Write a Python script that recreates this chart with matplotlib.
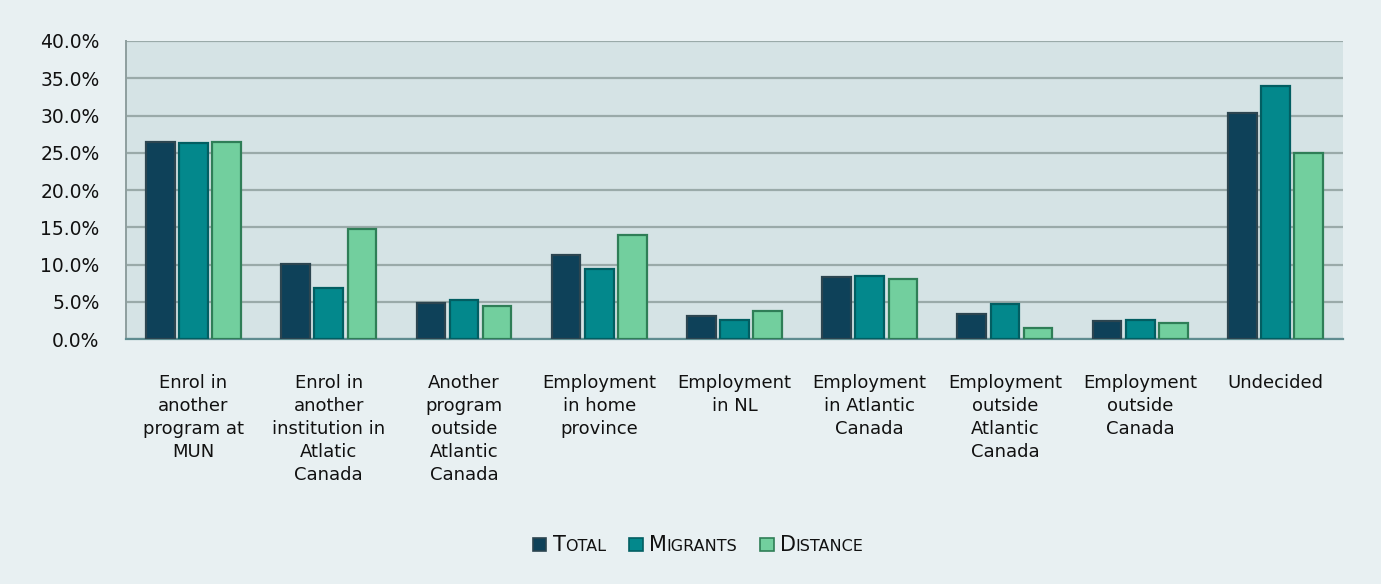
import matplotlib
matplotlib.use("Agg")
import matplotlib.pyplot as plt
import numpy as np
from matplotlib.offsetbox import HPacker, TextArea, DrawingArea, AnchoredOffsetbox
from matplotlib.patches import Rectangle
from matplotlib.ticker import FuncFormatter, MultipleLocator

categories = [
    "Enrol in\nanother\nprogram at\nMUN",
    "Enrol in\nanother\ninstitution in\nAtlatic\nCanada",
    "Another\nprogram\noutside\nAtlantic\nCanada",
    "Employment\nin home\nprovince",
    "Employment\nin NL",
    "Employment\nin Atlantic\nCanada",
    "Employment\noutside\nAtlantic\nCanada",
    "Employment\noutside\nCanada",
    "Undecided",
]
total = [26.4, 10.1, 4.9, 11.3, 3.1, 8.3, 3.4, 2.4, 30.4]
migrants = [26.3, 6.8, 5.2, 9.4, 2.6, 8.4, 4.7, 2.6, 34.0]
distance = [26.5, 14.7, 4.4, 14.0, 3.7, 8.1, 1.5, 2.2, 25.0]

series = [("T", "OTAL", total), ("M", "IGRANTS", migrants), ("D", "ISTANCE", distance)]
face_colors = ["#0E4159", "#03888C", "#72CF9E"]
edge_colors = ["#2C4550", "#025E62", "#2F7E57"]

plt.rcParams["font.family"] = ["DejaVu Sans"]

fig = plt.figure(figsize=(13.81, 5.84), dpi=100)
fig.patch.set_facecolor("#E8F0F2")
ax = fig.add_axes([0.0912, 0.4195, 0.8813, 0.5103])
ax.set_facecolor("#D5E3E5")

x = np.arange(len(categories))
width = 0.212
step = 0.245
for i, (_, _, vals) in enumerate(series):
    ax.bar(x + (i - 1) * step, vals, width=width, color=face_colors[i],
           edgecolor=edge_colors[i], linewidth=1.6, zorder=3)

ax.set_xlim(-0.5, len(categories) - 0.5)
ax.set_ylim(0, 40)
ax.yaxis.set_major_locator(MultipleLocator(5))
ax.yaxis.set_major_formatter(FuncFormatter(lambda v, p: f"{v:.1f}%"))
ax.grid(axis="y", color="#9AAAA9", linewidth=1.6, zorder=1)
ax.set_axisbelow(True)

ax.set_xticks(x)
ax.set_xticklabels(categories, fontsize=13, color="#111111", linespacing=1.37)
ax.tick_params(axis="x", length=0, pad=25)
ax.tick_params(axis="y", length=0, pad=19, labelsize=13.5, labelcolor="#111111")

for side in ("top", "right"):
    ax.spines[side].set_visible(False)
ax.spines["left"].set_color("#8E9E9E")
ax.spines["left"].set_linewidth(1.4)
ax.spines["bottom"].set_color("#5F8C90")
ax.spines["bottom"].set_linewidth(1.6)

# Legend with small-caps style labels
items = []
for i, (first, rest, _) in enumerate(series):
    da = DrawingArea(10.5, 10.5, 0, 0)
    da.add_artist(Rectangle((0.5, 0.5), 9.5, 9.5, facecolor=face_colors[i],
                            edgecolor=edge_colors[i], linewidth=1.2))
    big = TextArea(first, textprops=dict(fontsize=15, color="#111111"))
    small = TextArea(rest, textprops=dict(fontsize=11.5, color="#111111"))
    word = HPacker(children=[big, small], align="baseline", pad=0, sep=0)
    entry = HPacker(children=[da, word], align="center", pad=0, sep=4)
    items.append(entry)
legend_box = HPacker(children=items, align="center", pad=0, sep=16)
anchored = AnchoredOffsetbox(loc="center", child=legend_box, frameon=False,
                             bbox_to_anchor=(0.5055, 0.067),
                             bbox_transform=fig.transFigure, pad=0, borderpad=0)
fig.add_artist(anchored)

fig.savefig("out.png", dpi=100, facecolor=fig.get_facecolor())
